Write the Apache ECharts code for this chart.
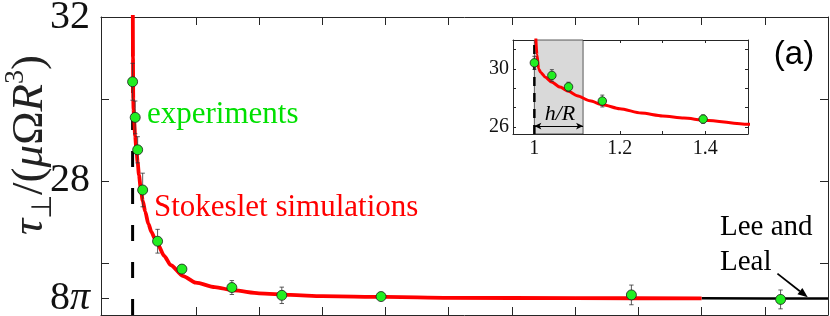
<!DOCTYPE html>
<html><head><meta charset="utf-8">
<script src="https://cdn.jsdelivr.net/npm/echarts@6/dist/echarts.min.js"></script>
<style>html,body{margin:0;padding:0;background:#fff}#c{width:830px;height:316px}</style>
</head><body><div id="c"></div>
<script>
// Stokeslet simulation curve (h/R, torque)
const simX = [1.002, 1.006, 1.010, 1.015, 1.025, 1.04, 1.06, 1.08, 1.10, 1.13, 1.16, 1.2, 1.25, 1.3, 1.35, 1.4, 1.5, 1.6, 1.8, 2.0, 2.3, 2.6, 3.0, 3.5, 4.0, 5.0, 6.0, 8.0, 10.0];
const simY = [33.0, 31.0, 30.0, 29.75, 29.45, 29.1, 28.75, 28.45, 28.15, 27.8, 27.52, 27.25, 26.95, 26.75, 26.6, 26.45, 26.17, 25.95, 25.68, 25.52, 25.41, 25.33, 25.26, 25.22, 25.19, 25.17, 25.15, 25.14, 25.135];
// Lee and Leal asymptote
const leeX = [10.0, 11.0, 12.0];
const leeY = [25.136, 25.135, 25.134];
// Experiments
const expX = [1.0, 1.041, 1.080, 1.159, 1.395, 1.78, 2.57, 3.36, 4.93, 8.89, 11.25];
const expY = [30.42, 29.55, 28.76, 27.78, 26.53, 25.85, 25.40, 25.21, 25.18, 25.22, 25.11];
const expErr = [0.45, 0.40, 0.32, 0.41, 0.29, 0.05, 0.17, 0.20, 0.02, 0.24, 0.23];
// Axis ticks
const mainYTicks = [8 * Math.PI, 26, 28, 30, 32];
const mainYLabels = [8 * Math.PI, 28, 32];
const mainXTicks = [1, 2, 3, 4, 5, 6, 7, 8, 9, 10, 11, 12];
const insetXTicks = [1, 1.1, 1.2, 1.3, 1.4, 1.5];
const insetXLabels = [1, 1.2, 1.4];
const insetYTicks = [26, 27.333, 28.667, 30, 31.333];
const insetYLabels = [26, 30];
const contactX = 1;
const shadeEnd = 1.114;
// Lee and Leal annotation arrow (data coords)
const leeArrowFrom = [11.2, 25.74];
const leeArrowTo = [11.68, 25.16];

const simData = simX.map((x, i) => [x, simY[i]]);
const leeData = leeX.map((x, i) => [x, leeY[i]]);
const expData = expX.map((x, i) => [x, expY[i], expErr[i]]);

const serif = 'Liberation Serif';
const axisCol = '#262626';
const MAIN_YMIN = 24.73, MAIN_YMAX = 32, MAIN_XMIN = 0.5, MAIN_XMAX = 12;
const IN_XMIN = 0.95, IN_XMAX = 1.5, IN_YMIN = 25.5, IN_YMAX = 32;

function errRender(capW, lw) {
  return function (params, api) {
    const x = api.value(0), y = api.value(1), e = api.value(2);
    const t = api.coord([x, y + e]), b = api.coord([x, y - e]);
    const st = { stroke: '#333', lineWidth: lw };
    return { type: 'group', children: [
      { type: 'line', shape: { x1: t[0], y1: t[1], x2: b[0], y2: b[1] }, style: st },
      { type: 'line', shape: { x1: t[0] - capW, y1: t[1], x2: t[0] + capW, y2: t[1] }, style: st },
      { type: 'line', shape: { x1: b[0] - capW, y1: b[1], x2: b[0] + capW, y2: b[1] }, style: st }
    ]};
  };
}

function box(idx, pos, min, max, ticks, labels, tlen, fmt, fsize, margin) {
  return {
    gridIndex: idx, type: 'value', position: pos, min: min, max: max,
    axisLine: { show: true, onZero: false, lineStyle: { color: axisCol, width: 1 } },
    axisTick: { show: true, inside: true, length: tlen, customValues: ticks, lineStyle: { color: axisCol, width: 1 } },
    axisLabel: labels ? { show: true, customValues: labels, formatter: fmt, color: '#111', fontFamily: serif, fontSize: fsize, margin: margin,
      rich: { n: { fontFamily: serif, fontSize: fsize, color: '#111' }, i: { fontFamily: serif, fontStyle: 'italic', fontSize: fsize, color: '#111' } } } : { show: false },
    splitLine: { show: false }
  };
}

function txt(id, x, y, text, family, size, fill, align, italic) {
  return { id: id, type: 'text', x: x, y: y, silent: true, z: 100,
    style: { text: '{a|' + text + '}', align: align || 'left', verticalAlign: 'middle',
      rich: { a: { fontFamily: family, fontSize: size, fontStyle: italic ? 'italic' : 'normal', fill: fill } } } };
}

const chart = echarts.init(document.getElementById('c'), null, { renderer: 'canvas' });
const option = {
  animation: false,
  backgroundColor: '#fff',
  grid: [
    { left: 101, top: 17, right: 2, bottom: 1, containLabel: false, outerBoundsMode: 'none' },
    { left: 513, top: 40, width: 235, height: 94, containLabel: false, outerBoundsMode: 'none', show: true, backgroundColor: '#fff', borderWidth: 0 }
  ],
  xAxis: [
    box(0, 'bottom', MAIN_XMIN, MAIN_XMAX, mainXTicks, null, 8),
    box(0, 'top', MAIN_XMIN, MAIN_XMAX, mainXTicks, null, 8),
    box(1, 'bottom', IN_XMIN, IN_XMAX, insetXTicks, insetXLabels, 3, v => String(v), 20, 5),
    box(1, 'top', IN_XMIN, IN_XMAX, insetXTicks, null, 3)
  ],
  yAxis: [
    box(0, 'left', MAIN_YMIN, MAIN_YMAX, mainYTicks, mainYLabels, 8, v => Math.abs(v - 8 * Math.PI) < 1e-6 ? '{n|8}{i|π}' : String(v), 40, 11),
    box(0, 'right', MAIN_YMIN, MAIN_YMAX, mainYTicks, null, 8),
    box(1, 'left', IN_YMIN, IN_YMAX, insetYTicks, insetYLabels, 3, v => String(Math.round(v)), 20, 4),
    box(1, 'right', IN_YMIN, IN_YMAX, insetYTicks, null, 3)
  ],
  series: [
    // main
    { type: 'line', xAxisIndex: 0, yAxisIndex: 0, data: [[contactX, MAIN_YMIN], [contactX, MAIN_YMAX]], symbol: 'none', z: 2,
      lineStyle: { color: '#000', width: 3, type: [16, 21] }, silent: true },
    { type: 'line', xAxisIndex: 0, yAxisIndex: 0, data: leeData, symbol: 'none', z: 3,
      lineStyle: { color: '#000', width: 2.5 }, silent: true },
    { type: 'line', xAxisIndex: 0, yAxisIndex: 0, data: simData, symbol: 'none', z: 4, smooth: 0.25, smoothMonotone: 'x',
      lineStyle: { color: '#ff0000', width: 3.8 }, silent: true },
    { type: 'custom', xAxisIndex: 0, yAxisIndex: 0, data: expData, z: 5, renderItem: errRender(2.2, 0.8), silent: true },
    { type: 'scatter', xAxisIndex: 0, yAxisIndex: 0, data: expData, z: 6, symbol: 'circle', symbolSize: 10,
      itemStyle: { color: '#22ee22', borderColor: '#1a1a1a', borderWidth: 0.8, opacity: 1 }, silent: true },
    // inset
    { type: 'line', xAxisIndex: 2, yAxisIndex: 2, data: [], symbol: 'none', z: 1, silent: true,
      markArea: { silent: true, itemStyle: { color: '#d9d9d9', borderColor: '#333', borderWidth: 0.8 },
        data: [[{ coord: [contactX, IN_YMIN] }, { coord: [shadeEnd, IN_YMAX] }]] } },
    { type: 'line', xAxisIndex: 2, yAxisIndex: 2, data: [[contactX, IN_YMIN], [contactX, IN_YMAX]], symbol: 'none', z: 2,
      lineStyle: { color: '#000', width: 2.5, type: [9, 7] }, silent: true,
      markLine: { silent: true, symbol: ['arrow', 'arrow'], symbolSize: [5, 7], label: { show: false },
        lineStyle: { color: '#000', width: 1, type: 'solid' },
        data: [[{ coord: [contactX, 26.05] }, { coord: [shadeEnd, 26.05] }]] } },
    { type: 'line', xAxisIndex: 2, yAxisIndex: 2, data: simData, symbol: 'none', z: 4, smooth: 0.25, smoothMonotone: 'x',
      lineStyle: { color: '#ff0000', width: 3 }, silent: true },
    { type: 'custom', xAxisIndex: 2, yAxisIndex: 2, data: expData, z: 5, renderItem: errRender(2, 0.8), silent: true, clip: true },
    { type: 'scatter', xAxisIndex: 2, yAxisIndex: 2, data: expData, z: 6, symbol: 'circle', symbolSize: 8.5,
      itemStyle: { color: '#22ee22', borderColor: '#1a1a1a', borderWidth: 0.8, opacity: 1 }, silent: true }
  ],
  graphic: [
    { id: 'ytitle', type: 'text', x: 30, y: 145, rotation: Math.PI / 2, silent: true,
      style: { text: '{i|τ}{s|⊥}{n|/(}{i|μ}{n|Ω}{i|R}{p|3}{n|)}', align: 'center', verticalAlign: 'middle', fill: '#222',
        rich: {
          i: { fontFamily: serif, fontStyle: 'italic', fontSize: 45, lineHeight: 56, fill: '#222' },
          n: { fontFamily: serif, fontSize: 45, lineHeight: 56, fill: '#222' },
          s: { fontFamily: serif, fontSize: 28, lineHeight: 56, verticalAlign: 'bottom', fill: '#222' },
          p: { fontFamily: serif, fontSize: 28, lineHeight: 56, verticalAlign: 'top', fill: '#222' }
        } } },
    txt('t1', 147, 115, 'experiments', serif, 31, '#00e000'),
    txt('t2', 154, 208, 'Stokeslet simulations', serif, 31, '#ff0000'),
    txt('t3', 720, 227, 'Lee and', serif, 29, '#000'),
    txt('t4', 720, 262, 'Leal', serif, 29, '#000'),
    txt('t5', 794, 55, '(a)', 'Liberation Sans', 33, '#000', 'center'),
    txt('t6', 560, 114, 'h/R', serif, 22, '#000', 'center', true)
  ]
};
chart.setOption(option);

// Lee and Leal arrow positioned through the axis scales
const p0 = chart.convertToPixel({ xAxisIndex: 0, yAxisIndex: 0 }, leeArrowFrom);
const p1 = chart.convertToPixel({ xAxisIndex: 0, yAxisIndex: 0 }, leeArrowTo);
const ang = Math.atan2(p1[1] - p0[1], p1[0] - p0[0]);
const hl = 10, hw = 4;
const bx = p1[0] - hl * Math.cos(ang), by = p1[1] - hl * Math.sin(ang);
const nx = -Math.sin(ang), ny = Math.cos(ang);
chart.setOption({
  graphic: [
    { id: 'arrLine', type: 'line', silent: true, z: 100, shape: { x1: p0[0], y1: p0[1], x2: bx, y2: by }, style: { stroke: '#000', lineWidth: 1.8 } },
    { id: 'arrHead', type: 'polygon', silent: true, z: 100, shape: { points: [[p1[0], p1[1]], [bx + nx * hw, by + ny * hw], [bx - nx * hw, by - ny * hw]] }, style: { fill: '#000' } }
  ]
});
</script>
</body></html>
